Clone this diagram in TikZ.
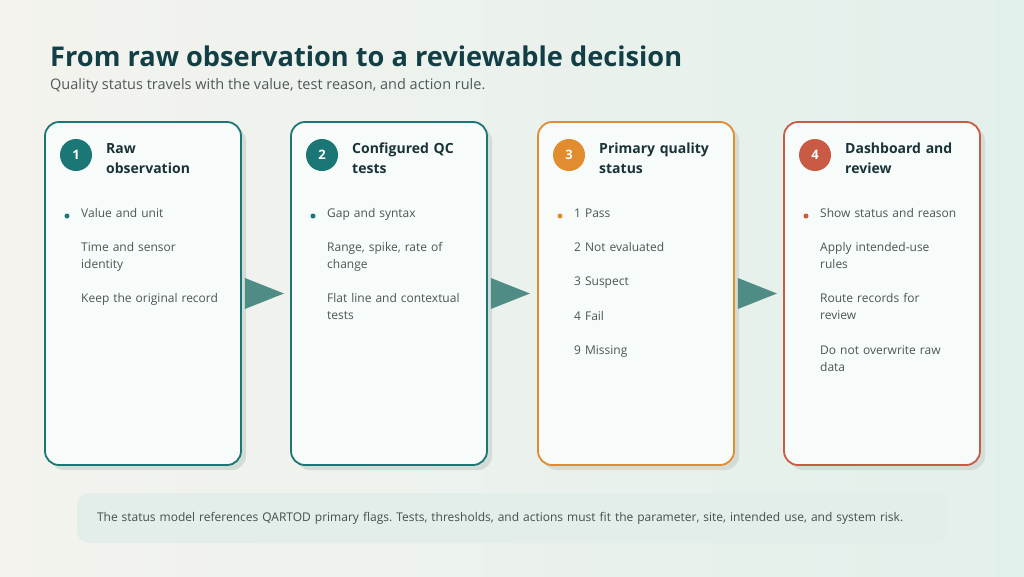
\documentclass[tikz,border=0pt]{standalone}
\usepackage{fontspec}
\setmainfont{Open Sans}
\usetikzlibrary{positioning,shadows}
\frenchspacing

\definecolor{bgl}{HTML}{F4F3EE}
\definecolor{bgr}{HTML}{E2F0EB}
\definecolor{titlec}{HTML}{123F45}
\definecolor{subc}{HTML}{4D5A5A}
\definecolor{headc}{HTML}{1A3338}
\definecolor{itemc}{HTML}{4B5656}
\definecolor{tealc}{HTML}{1B7775}
\definecolor{orangec}{HTML}{E08C2F}
\definecolor{redc}{HTML}{C95B44}
\definecolor{cardfill}{HTML}{F7FBF9}
\definecolor{shadowc}{HTML}{D3DCD7}
\definecolor{arrowc}{HTML}{4F8C86}
\definecolor{footc}{HTML}{E3EEEA}

\tikzset{
  card/.style={draw=#1, line width=1.8pt, fill=cardfill, rounded corners=14pt,
    minimum width=196pt, minimum height=343pt,
    drop shadow={shadow xshift=5pt, shadow yshift=-5pt, fill=shadowc, opacity=1}},
  badge/.style={circle, fill=#1, text=white, minimum size=32pt, inner sep=0pt,
    font=\fontsize{13}{13}\selectfont\bfseries},
  heading/.style={anchor=north west, inner sep=0pt, align=left, text width=160pt,
    text=headc, font=\fontsize{14}{20}\selectfont\bfseries},
  item/.style={anchor=north west, inner sep=0pt, align=left, text width=150pt,
    text=itemc, font=\fontsize{12}{17}\selectfont},
  dot/.style={circle, fill=#1, inner sep=0pt, minimum size=5pt},
  flowarrow/.style={fill=arrowc},
  footer/.style={fill=footc, rounded corners=12pt, minimum width=870pt, minimum height=50pt,
    text width=830pt, inner xsep=20pt, align=left, text=itemc!90!black, font=\fontsize{12}{17}\selectfont},
}

\begin{document}
\begin{tikzpicture}[x=1pt, y=-1pt]

\useasboundingbox (0,0) rectangle (1024,576);
\fill[left color=bgl, right color=bgr] (0,0) rectangle (1024,576);

% ==== Title ====
\node[anchor=base west, inner sep=0pt, text=titlec, font=\fontsize{27.2}{32}\selectfont\bfseries]
  (T) at (50,66) {From raw observation to a reviewable decision};
\node[anchor=base west, inner sep=0pt, text=subc, font=\fontsize{14.5}{17}\selectfont]
  (S) at (50,89) {Quality status travels with the value, test reason, and action rule.};

% ==== Cards ====
\foreach \i/\x/\col/\title in {1/143/tealc/{Raw\\observation},
                               2/389/tealc/{Configured QC\\tests},
                               3/636/orangec/{Primary quality\\status},
                               4/882/redc/{Dashboard and\\review}}
{
  \node[card=\col] (C\i) at (\x,293.5) {};
  \node[badge=\col] (B\i) at (\x-67,155) {\i};
  \node[heading] (H\i) at (\x-37,139) {\strut\title\strut};
  \node[dot=\col] (D\i) at (\x-76,216) {};
}

% card 1 items
\node[item] (I11) at (81,205) {\strut Value and unit\strut};
\node[item, below=17pt of I11.south west, anchor=north west] (I12) {\strut Time and sensor\\identity\strut};
\node[item, below=17pt of I12.south west, anchor=north west] (I13) {\strut Keep the original record\strut};

% card 2 items
\node[item] (I21) at (327,205) {\strut Gap and syntax\strut};
\node[item, below=17pt of I21.south west, anchor=north west] (I22) {\strut Range, spike, rate of\\change\strut};
\node[item, below=17pt of I22.south west, anchor=north west] (I23) {\strut Flat line and contextual\\tests\strut};

% card 3 items
\node[item] (I31) at (574,205) {\strut 1 Pass\strut};
\node[item, below=17pt of I31.south west, anchor=north west] (I32) {\strut 2 Not evaluated\strut};
\node[item, below=17pt of I32.south west, anchor=north west] (I33) {\strut 3 Suspect\strut};
\node[item, below=17pt of I33.south west, anchor=north west] (I34) {\strut 4 Fail\strut};
\node[item, below=17pt of I34.south west, anchor=north west] (I35) {\strut 9 Missing\strut};

% card 4 items
\node[item] (I41) at (820,205) {\strut Show status and reason\strut};
\node[item, below=17pt of I41.south west, anchor=north west] (I42) {\strut Apply intended-use\\rules\strut};
\node[item, below=17pt of I42.south west, anchor=north west] (I43) {\strut Route records for\\review\strut};
\node[item, below=17pt of I43.south west, anchor=north west] (I44) {\strut Do not overwrite raw\\data\strut};

% ==== Arrows between cards ====
\foreach \i in {1,2,3}
  \fill[flowarrow] (C\i.east) ++(3,-15.5) -- ++(39,15.5) -- ++(-39,15.5) -- cycle;

% ==== Footer note ====
\node[footer] (F) at (512,518) {The status model references QARTOD primary flags. Tests, thresholds, and actions must fit the parameter, site, intended use, and system risk.};

\end{tikzpicture}
\end{document}
